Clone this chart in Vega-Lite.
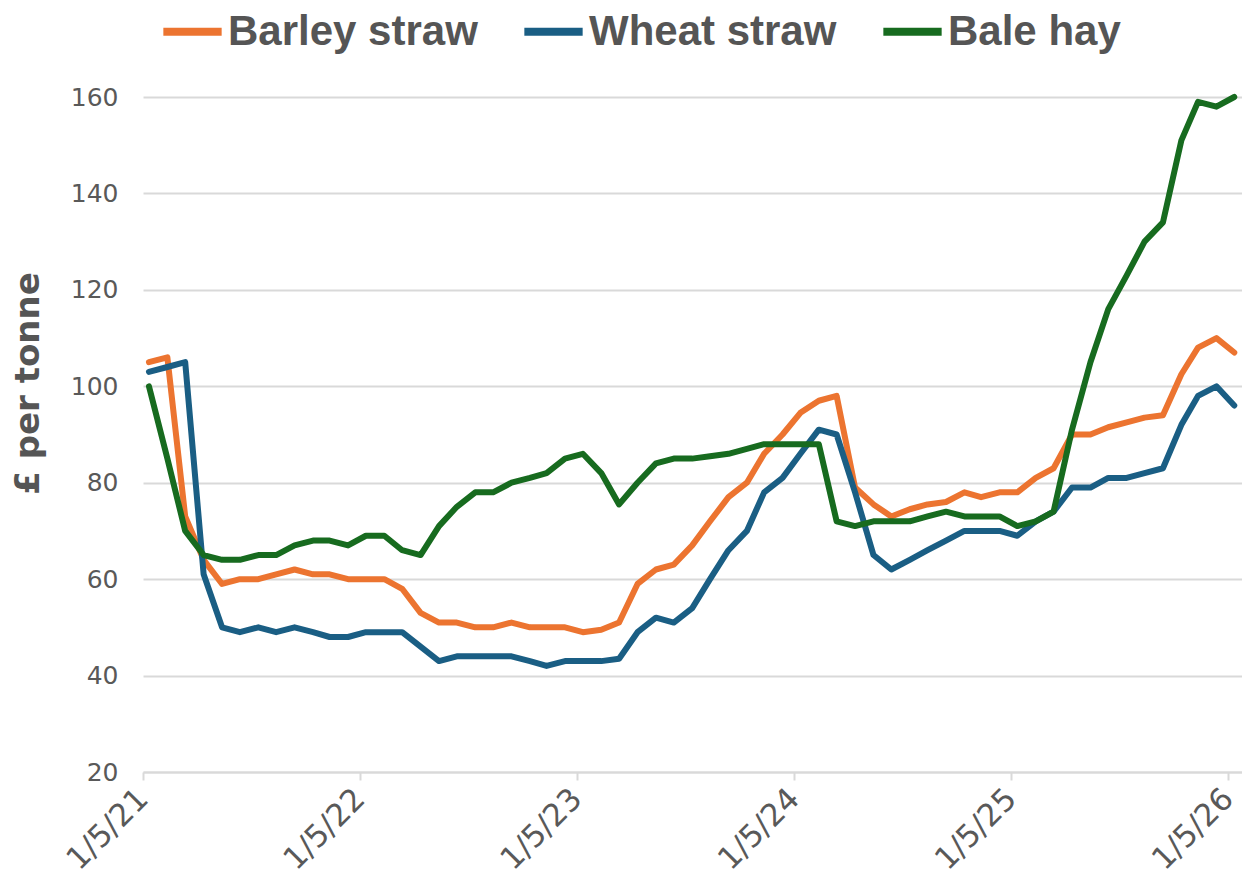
{
  "$schema": "https://vega.github.io/schema/vega-lite/v6.json",
  "autosize": "none",
  "width": 1099,
  "height": 675,
  "padding": {"left": 143, "top": 97, "right": 0, "bottom": 105},
  "background": "white",
  "config": {
    "view": {"stroke": null},
    "axis": {"labelFont": "DejaVu Sans", "titleFont": "DejaVu Sans"}
  },
  "data": {
    "values": [
      {"date": "2021-05-11", "Barley straw": 105, "Wheat straw": 103, "Bale hay": 100},
      {"date": "2021-06-11", "Barley straw": 106, "Wheat straw": 104, "Bale hay": 85},
      {"date": "2021-07-11", "Barley straw": 73, "Wheat straw": 105, "Bale hay": 70},
      {"date": "2021-08-11", "Barley straw": 64, "Wheat straw": 61, "Bale hay": 65},
      {"date": "2021-09-11", "Barley straw": 59, "Wheat straw": 50, "Bale hay": 64},
      {"date": "2021-10-11", "Barley straw": 60, "Wheat straw": 49, "Bale hay": 64},
      {"date": "2021-11-11", "Barley straw": 60, "Wheat straw": 50, "Bale hay": 65},
      {"date": "2021-12-11", "Barley straw": 61, "Wheat straw": 49, "Bale hay": 65},
      {"date": "2022-01-11", "Barley straw": 62, "Wheat straw": 50, "Bale hay": 67},
      {"date": "2022-02-11", "Barley straw": 61, "Wheat straw": 49, "Bale hay": 68},
      {"date": "2022-03-11", "Barley straw": 61, "Wheat straw": 48, "Bale hay": 68},
      {"date": "2022-04-11", "Barley straw": 60, "Wheat straw": 48, "Bale hay": 67},
      {"date": "2022-05-11", "Barley straw": 60, "Wheat straw": 49, "Bale hay": 69},
      {"date": "2022-06-11", "Barley straw": 60, "Wheat straw": 49, "Bale hay": 69},
      {"date": "2022-07-11", "Barley straw": 58, "Wheat straw": 49, "Bale hay": 66},
      {"date": "2022-08-11", "Barley straw": 53, "Wheat straw": 46, "Bale hay": 65},
      {"date": "2022-09-11", "Barley straw": 51, "Wheat straw": 43, "Bale hay": 71},
      {"date": "2022-10-11", "Barley straw": 51, "Wheat straw": 44, "Bale hay": 75},
      {"date": "2022-11-11", "Barley straw": 50, "Wheat straw": 44, "Bale hay": 78},
      {"date": "2022-12-11", "Barley straw": 50, "Wheat straw": 44, "Bale hay": 78},
      {"date": "2023-01-11", "Barley straw": 51, "Wheat straw": 44, "Bale hay": 80},
      {"date": "2023-02-11", "Barley straw": 50, "Wheat straw": 43, "Bale hay": 81},
      {"date": "2023-03-11", "Barley straw": 50, "Wheat straw": 42, "Bale hay": 82},
      {"date": "2023-04-11", "Barley straw": 50, "Wheat straw": 43, "Bale hay": 85},
      {"date": "2023-05-11", "Barley straw": 49, "Wheat straw": 43, "Bale hay": 86},
      {"date": "2023-06-11", "Barley straw": 49.5, "Wheat straw": 43, "Bale hay": 82},
      {"date": "2023-07-11", "Barley straw": 51, "Wheat straw": 43.5, "Bale hay": 75.5},
      {"date": "2023-08-11", "Barley straw": 59, "Wheat straw": 49, "Bale hay": 80},
      {"date": "2023-09-11", "Barley straw": 62, "Wheat straw": 52, "Bale hay": 84},
      {"date": "2023-10-11", "Barley straw": 63, "Wheat straw": 51, "Bale hay": 85},
      {"date": "2023-11-11", "Barley straw": 67, "Wheat straw": 54, "Bale hay": 85},
      {"date": "2023-12-11", "Barley straw": 72, "Wheat straw": 60, "Bale hay": 85.5},
      {"date": "2024-01-11", "Barley straw": 77, "Wheat straw": 66, "Bale hay": 86},
      {"date": "2024-02-11", "Barley straw": 80, "Wheat straw": 70, "Bale hay": 87},
      {"date": "2024-03-11", "Barley straw": 86, "Wheat straw": 78, "Bale hay": 88},
      {"date": "2024-04-11", "Barley straw": 90, "Wheat straw": 81, "Bale hay": 88},
      {"date": "2024-05-11", "Barley straw": 94.5, "Wheat straw": 86, "Bale hay": 88},
      {"date": "2024-06-11", "Barley straw": 97, "Wheat straw": 91, "Bale hay": 88},
      {"date": "2024-07-11", "Barley straw": 98, "Wheat straw": 90, "Bale hay": 72},
      {"date": "2024-08-11", "Barley straw": 79, "Wheat straw": 78, "Bale hay": 71},
      {"date": "2024-09-11", "Barley straw": 75.5, "Wheat straw": 65, "Bale hay": 72},
      {"date": "2024-10-11", "Barley straw": 73, "Wheat straw": 62, "Bale hay": 72},
      {"date": "2024-11-11", "Barley straw": 74.5, "Wheat straw": 64, "Bale hay": 72},
      {"date": "2024-12-11", "Barley straw": 75.5, "Wheat straw": 66, "Bale hay": 73},
      {"date": "2025-01-11", "Barley straw": 76, "Wheat straw": 68, "Bale hay": 74},
      {"date": "2025-02-11", "Barley straw": 78, "Wheat straw": 70, "Bale hay": 73},
      {"date": "2025-03-11", "Barley straw": 77, "Wheat straw": 70, "Bale hay": 73},
      {"date": "2025-04-11", "Barley straw": 78, "Wheat straw": 70, "Bale hay": 73},
      {"date": "2025-05-11", "Barley straw": 78, "Wheat straw": 69, "Bale hay": 71},
      {"date": "2025-06-11", "Barley straw": 81, "Wheat straw": 72, "Bale hay": 72},
      {"date": "2025-07-11", "Barley straw": 83, "Wheat straw": 74, "Bale hay": 74},
      {"date": "2025-08-11", "Barley straw": 90, "Wheat straw": 79, "Bale hay": 91},
      {"date": "2025-09-11", "Barley straw": 90, "Wheat straw": 79, "Bale hay": 105},
      {"date": "2025-10-11", "Barley straw": 91.5, "Wheat straw": 81, "Bale hay": 116},
      {"date": "2025-11-11", "Barley straw": 92.5, "Wheat straw": 81, "Bale hay": 123},
      {"date": "2025-12-11", "Barley straw": 93.5, "Wheat straw": 82, "Bale hay": 130},
      {"date": "2026-01-11", "Barley straw": 94, "Wheat straw": 83, "Bale hay": 134},
      {"date": "2026-02-11", "Barley straw": 102.5, "Wheat straw": 92, "Bale hay": 151},
      {"date": "2026-03-11", "Barley straw": 108, "Wheat straw": 98, "Bale hay": 159},
      {"date": "2026-04-11", "Barley straw": 110, "Wheat straw": 100, "Bale hay": 158},
      {"date": "2026-05-11", "Barley straw": 107, "Wheat straw": 96, "Bale hay": 160}
    ]
  },
  "transform": [
    {"fold": ["Barley straw", "Wheat straw", "Bale hay"], "as": ["series", "value"]}
  ],
  "mark": {"type": "line", "strokeWidth": 6, "strokeJoin": "round", "strokeCap": "round"},
  "encoding": {
    "x": {
      "field": "date",
      "type": "temporal",
      "scale": {"type": "utc", "domain": [{"year": 2021, "month": 5, "date": 1, "utc": true}, {"year": 2026, "month": 5, "date": 24, "utc": true}]},
      "axis": {
        "title": null,
        "values": [
          {"year": 2021, "month": 5, "date": 1, "utc": true},
          {"year": 2022, "month": 5, "date": 1, "utc": true},
          {"year": 2023, "month": 5, "date": 1, "utc": true},
          {"year": 2024, "month": 5, "date": 1, "utc": true},
          {"year": 2025, "month": 5, "date": 1, "utc": true},
          {"year": 2026, "month": 5, "date": 1, "utc": true}
        ],
        "labelExpr": "utcFormat(datum.value, '%-d/%-m/%y')",
        "grid": false,
        "domainColor": "#d9d9d9",
        "domainWidth": 2,
        "tickColor": "#d9d9d9",
        "tickWidth": 2,
        "tickSize": 8,
        "labelAngle": -45,
        "labelAlign": "right",
        "labelBaseline": "middle",
        "labelPadding": 14,
        "labelFontSize": 31,
        "labelColor": "#595959",
        "labelFlush": false,
        "labelOverlap": false
      }
    },
    "y": {
      "field": "value",
      "type": "quantitative",
      "scale": {"domain": [20, 160], "nice": false, "zero": false},
      "axis": {
        "title": "£ per tonne",
        "values": [20, 40, 60, 80, 100, 120, 140, 160],
        "grid": true,
        "gridColor": "#d9d9d9",
        "gridWidth": 2,
        "domain": false,
        "ticks": false,
        "labelPadding": 25,
        "labelFontSize": 25,
        "labelColor": "#595959",
        "titleFontSize": 34,
        "titleFontWeight": "bold",
        "titleColor": "#555555",
        "titleX": -115,
        "titleY": 286,
        "titleAngle": -90,
        "titleAlign": "center",
        "titleBaseline": "middle"
      }
    },
    "color": {
      "field": "series",
      "type": "nominal",
      "scale": {"domain": ["Barley straw", "Wheat straw", "Bale hay"], "range": ["#EC7430", "#1A5E84", "#176B1F"]},
      "legend": {
        "title": null,
        "orient": "none",
        "legendX": 16,
        "legendY": -99,
        "direction": "horizontal",
        "symbolType": "stroke",
        "symbolStrokeWidth": 8,
        "symbolSize": 3400,
        "labelFontSize": 42,
        "labelFont": "Liberation Sans",
        "labelFontWeight": "bold",
        "labelColor": "#555555",
        "labelLimit": 400,
        "labelOffset": 2,
        "columnPadding": 30
      }
    }
  }
}
